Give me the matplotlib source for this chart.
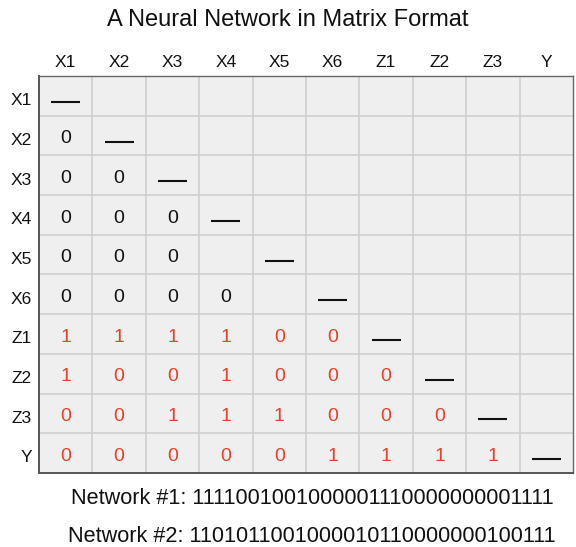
import numpy as np
import matplotlib
matplotlib.use("Agg")
import matplotlib.pyplot as plt

plt.rcParams['font.family'] = ['Liberation Sans', 'DejaVu Sans']

labels = ["X1", "X2", "X3", "X4", "X5", "X6", "Z1", "Z2", "Z3", "Y"]
rows_values = [
    [],
    [0],
    [0, 0],
    [0, 0, 0],
    [0, 0, 0],
    [0, 0, 0, 0],
    [1, 1, 1, 1, 0, 0],
    [1, 0, 0, 1, 0, 0, 0],
    [0, 0, 1, 1, 1, 0, 0, 0],
    [0, 0, 0, 0, 0, 1, 1, 1, 1],
]
red_rows = ["Z1", "Z2", "Z3", "Y"]
network1 = "1111001001000001110000000001111"
network2 = "1101011001000010110000000100111"
title = "A Neural Network in Matrix Format"

n = len(labels)
fig = plt.figure(figsize=(5.76, 5.47), dpi=100)
ax = fig.add_axes([39/576, 1-473/547, 534/576, 397/547])
ax.set_facecolor("#efefef")
ax.set_xlim(-0.5, n-0.5)
ax.set_ylim(n-0.5, -0.5)
for k in range(1, n):
    ax.axhline(k-0.5, color="#cfcfcf", lw=1.2)
    ax.axvline(k-0.5, color="#cfcfcf", lw=1.2)
ax.set_xticks([])
ax.set_yticks([])
for s in ["left", "bottom"]:
    ax.spines[s].set_color("#555555")
    ax.spines[s].set_linewidth(1.4)
for s in ["top", "right"]:
    ax.spines[s].set_color("#666666")
    ax.spines[s].set_linewidth(1.0)

red = "#e8412c"
for i, lab in enumerate(labels):
    color = red if lab in red_rows else "#111111"
    for j, v in enumerate(rows_values[i]):
        ax.text(j, i + 0.08, str(v), ha="center", va="center", fontsize=14, color=color)
    ax.plot([i - 0.27, i + 0.27], [i + 0.15, i + 0.15], color="#111111", lw=1.5, solid_capstyle="butt")
    ax.text(-0.63, i + 0.12, lab, ha="right", va="center", fontsize=12.5, color="#111111")
    ax.text(i, -0.83, lab, ha="center", va="center", fontsize=12.5, color="#111111")

fig.text(0.5, 1 - 20/547, title, ha="center", va="center", fontsize=17, color="#111111")
fig.text(312/576, 1 - 499/547, "Network #1: " + network1, ha="center", va="center", fontsize=15.6, color="#111111")
fig.text(312/576, 1 - 537/547, "Network #2: " + network2, ha="center", va="center", fontsize=15.6, color="#111111")

fig.savefig("out.png", dpi=100)
